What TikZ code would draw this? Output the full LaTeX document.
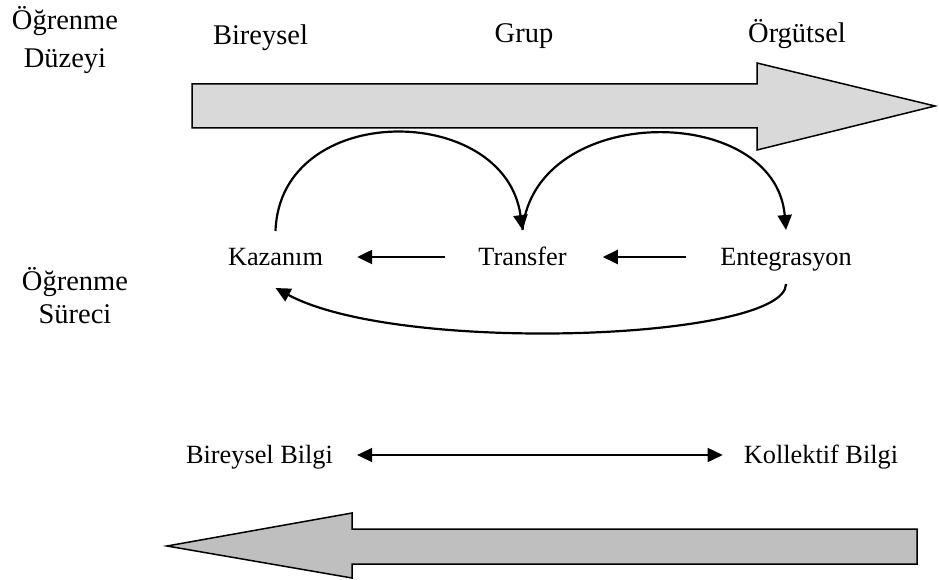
\documentclass[tikz,border=0pt]{standalone}
\usepackage{fontspec}
\setmainfont{Liberation Serif}
\usetikzlibrary{arrows.meta}
\definecolor{levelgray}{HTML}{D9D9D9}
\definecolor{knowgray}{HTML}{BFBFBF}
\begin{document}
\begin{tikzpicture}[x=1pt,y=-1pt,
  headtxt/.style={font=\fontsize{28.5}{33}\selectfont, inner sep=0pt, anchor=base},
  steptxt/.style={font=\fontsize{26.3}{30}\selectfont, inner sep=0pt, anchor=base},
  tipshape/.tip={Triangle[length=15pt,width=14pt]},
  flow/.style={line width=2.2pt, -tipshape},
  bigarrow/.style={draw=black, line width=1.5pt, line join=miter}
]
\useasboundingbox (0,0) rectangle (939,580);

% block arrow for the learning level (individual -> organisation)
\path[bigarrow, fill=levelgray]
  (192,84) -- (757,84) -- (757,63) -- (935,106) -- (757,150) -- (757,128) -- (192,128) -- cycle;

% block arrow underneath, pointing back
\path[bigarrow, fill=knowgray]
  (917,529) -- (352,529) -- (352,513) -- (167,546) -- (352,578) -- (352,564) -- (917,564) -- cycle;

% side labels (base anchor sits on the last line)
\node[headtxt, align=center, font=\fontsize{28.5}{38}\selectfont] (duzey) at (65,68) {Öğrenme\\Düzeyi};
\node[headtxt, align=center] (surec) at (75,323) {Öğrenme\\Süreci};

% level labels
\node[headtxt] (bir) at (260.5,45) {Bireysel};
\node[headtxt] (grp) at (524,43) {Grup};
\node[headtxt] (org) at (797,43) {Örgütsel};

% process steps
\node[steptxt] (kz) at (275.5,265) {Kazanım};
\node[steptxt] (tr) at (522.5,265) {Transfer};
\node[steptxt] (en) at (786,265) {Entegrasyon};

% knowledge labels
\node[steptxt] (bb) at (259.5,463) {Bireysel Bilgi};
\node[steptxt] (kb) at (821,463) {Kollektif Bilgi};

% straight arrows between the steps
\draw[flow] ([xshift=-33pt,yshift=8pt]tr.base west) -- ([xshift=34pt,yshift=8pt]kz.base east);
\draw[flow] ([xshift=-34pt,yshift=8pt]en.base west) -- ([xshift=36pt,yshift=8pt]tr.base east);

% arcs over the steps
\draw[flow] ([yshift=34pt]kz.base) .. controls +(4.5,-131) and +(-17.5,-128) .. ([yshift=35pt]tr.base);
\draw[flow] ([yshift=35pt]tr.base) .. controls +(12.5,-128) and +(-11,-128) .. ([yshift=35pt]en.base);

% feedback arc below the steps
\draw[flow] ([yshift=-19pt]en.base) .. controls +(0,56) and +(124.5,67) .. ([yshift=-23pt]kz.base);

% two-way arrow between the knowledge labels
\draw[line width=1.5pt, tipshape-tipshape] ([xshift=24pt,yshift=8pt]bb.base east) -- ([xshift=-21pt,yshift=8pt]kb.base west);
\end{tikzpicture}
\end{document}
